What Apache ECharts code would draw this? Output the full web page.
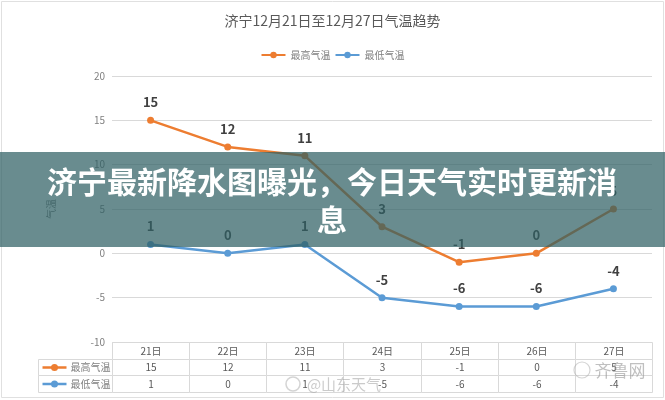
<!DOCTYPE html>
<html>
<head>
<meta charset="utf-8">
<script src="https://cdn.jsdelivr.net/npm/echarts@6/dist/echarts.min.js"></script>
<style>
  html, body { margin: 0; padding: 0; background: #fff; }
  #chart { width: 665px; height: 400px; }
</style>
</head>
<body>
<div id="chart"></div>
<script>
// Daily temperatures for Jining, Dec 21 – Dec 27
var days = ['21日', '22日', '23日', '24日', '25日', '26日', '27日'];
var highTemps = [15, 12, 11, 3, -1, 0, 5];
var lowTemps = [1, 0, 1, -5, -6, -6, -4];
var seriesNames = ['最高气温', '最低气温'];
var seriesColors = ['#ed7d31', '#5b9bd5'];
var titleText = '济宁12月21日至12月27日气温趋势';
var bannerText = '济宁最新降水图曝光，今日天气实时更新消\n息';

var FONT = '"Noto Sans CJK SC", "Microsoft YaHei", sans-serif';
var GRID_LEFT = 112;
var HEAD_W = 75;

// Cells of the data table below the plot: header row + one row per series
var cells = [];
days.forEach(function (d, c) { cells.push({ c: c, r: 0, text: d }); });
highTemps.forEach(function (v, c) { cells.push({ c: c, r: 1, text: String(v) }); });
lowTemps.forEach(function (v, c) { cells.push({ c: c, r: 2, text: String(v) }); });
cells.push({ c: 0, r: 1, head: 0 });
cells.push({ c: 0, r: 2, head: 1 });

function crisp(v) { return Math.round(v) + 0.5; }

function renderCell(params, api) {
  var cell = cells[params.dataIndex];
  var center = api.coord([cell.c, cell.r]);
  var size = api.size([1, 1]);
  var x0 = crisp(center[0] - size[0] / 2);
  var y0 = crisp(center[1] - size[1] / 2);
  var x1 = crisp(center[0] + size[0] / 2);
  var y1 = crisp(center[1] + size[1] / 2);
  var cy = (y0 + y1) / 2;
  if (cell.head !== undefined) {
    var hx0 = crisp(x0 - HEAD_W);
    var col = seriesColors[cell.head];
    return {
      type: 'group',
      children: [
        { type: 'rect', shape: { x: hx0, y: y0, width: x0 - hx0, height: y1 - y0 },
          style: { fill: '#fff', stroke: '#d9d9d9', lineWidth: 1 } },
        { type: 'line', shape: { x1: hx0 + 4, y1: cy, x2: hx0 + 28, y2: cy },
          style: { stroke: col, lineWidth: 2.5 } },
        { type: 'circle', shape: { cx: hx0 + 16, cy: cy, r: 3.5 },
          style: { fill: col } },
        { type: 'text', x: hx0 + 32, y: cy,
          style: { text: seriesNames[cell.head], fill: '#7f7f7f', font: '10px ' + FONT,
                   align: 'left', verticalAlign: 'middle' } }
      ]
    };
  }
  return {
    type: 'group',
    children: [
      { type: 'rect', shape: { x: x0, y: y0, width: x1 - x0, height: y1 - y0 },
        style: { fill: '#fff', stroke: '#d9d9d9', lineWidth: 1 } },
      { type: 'text', x: (x0 + x1) / 2, y: cy,
        style: { text: cell.text, fill: '#595959', font: '10px ' + FONT,
                 align: 'center', verticalAlign: 'middle' } }
    ]
  };
}

function lineSeries(i, values) {
  return {
    name: seriesNames[i],
    type: 'line',
    xAxisIndex: 0,
    yAxisIndex: 0,
    data: values,
    symbol: 'circle',
    symbolSize: 7,
    color: seriesColors[i],
    lineStyle: { width: 2.5, color: seriesColors[i] },
    itemStyle: { color: seriesColors[i] },
    label: {
      show: true,
      position: 'top',
      distance: 8,
      fontFamily: FONT,
      fontSize: 13,
      fontWeight: 'bold',
      color: '#404040'
    },
    animation: false
  };
}

var chart = echarts.init(document.getElementById('chart'), null, { renderer: 'canvas' });

chart.setOption({
  backgroundColor: '#fff',
  animation: false,
  title: {
    text: titleText,
    left: 'center',
    top: 9,
    textStyle: { fontFamily: FONT, fontSize: 14, fontWeight: 'normal', color: '#595959' }
  },
  legend: {
    data: seriesNames,
    top: 45,
    left: 'center',
    itemWidth: 24,
    itemHeight: 8,
    itemGap: 4,
    textStyle: { fontFamily: FONT, fontSize: 10, color: '#7f7f7f' }
  },
  grid: [
    { left: GRID_LEFT, right: 13, top: 76, bottom: 58 },
    { left: GRID_LEFT, right: 13, top: 342, height: 50 }
  ],
  xAxis: [
    { type: 'category', gridIndex: 0, data: days, boundaryGap: true,
      axisLine: { show: false }, axisTick: { show: false }, axisLabel: { show: false } },
    { type: 'category', gridIndex: 1, data: days, boundaryGap: true, show: false }
  ],
  yAxis: [
    { type: 'value', gridIndex: 0, min: -10, max: 20, interval: 5,
      name: '气温', nameLocation: 'middle', nameRotate: 90, nameGap: 56,
      nameTextStyle: { fontFamily: FONT, fontSize: 10, color: '#7f7f7f' },
      axisLine: { show: false }, axisTick: { show: false },
      axisLabel: { fontFamily: FONT, fontSize: 10, color: '#7f7f7f', margin: 7 },
      splitLine: { lineStyle: { color: '#d9d9d9', width: 1 } } },
    { type: 'category', gridIndex: 1, data: ['', seriesNames[0], seriesNames[1]],
      inverse: true, show: false }
  ],
  series: [
    lineSeries(0, highTemps),
    lineSeries(1, lowTemps),
    {
      type: 'custom',
      xAxisIndex: 1,
      yAxisIndex: 1,
      coordinateSystem: 'cartesian2d',
      data: cells.map(function (cell) { return [cell.c, cell.r]; }),
      renderItem: renderCell,
      clip: false,
      silent: true,
      z: 1
    }
  ],
  graphic: [
    { type: 'rect', z: 90, silent: true,
      shape: { x: 1.5, y: 1.5, width: 662, height: 396 },
      style: { fill: null, stroke: '#e0e0e0', lineWidth: 1 } },
    { type: 'text', z: 95, silent: true, x: 344, y: 384,
      style: { text: '@山东天气', fill: 'rgba(160,160,160,0.55)', font: '15px ' + FONT,
               align: 'center', verticalAlign: 'middle' } },
    { type: 'circle', z: 95, silent: true, shape: { cx: 293, cy: 384, r: 7 },
      style: { fill: null, stroke: 'rgba(170,170,170,0.5)', lineWidth: 1.5 } },
    { type: 'text', z: 95, silent: true, x: 620, y: 371,
      style: { text: '齐鲁网', fill: 'rgba(150,150,150,0.6)', font: '17px ' + FONT,
               align: 'center', verticalAlign: 'middle' } },
    { type: 'circle', z: 95, silent: true, shape: { cx: 582, cy: 370, r: 8 },
      style: { fill: null, stroke: 'rgba(170,170,170,0.5)', lineWidth: 1.2 } },
    { type: 'rect', zlevel: 1, z: 100, silent: true,
      shape: { x: 0, y: 152, width: 665, height: 95 },
      style: { fill: 'rgba(47,95,100,0.72)' } },
    { type: 'text', zlevel: 1, z: 101, silent: true, x: 332, y: 201,
      style: { text: bannerText, fill: '#ffffff', font: 'bold 30px ' + FONT,
               lineHeight: 38, align: 'center', verticalAlign: 'middle' } }
  ]
});
</script>
</body>
</html>
